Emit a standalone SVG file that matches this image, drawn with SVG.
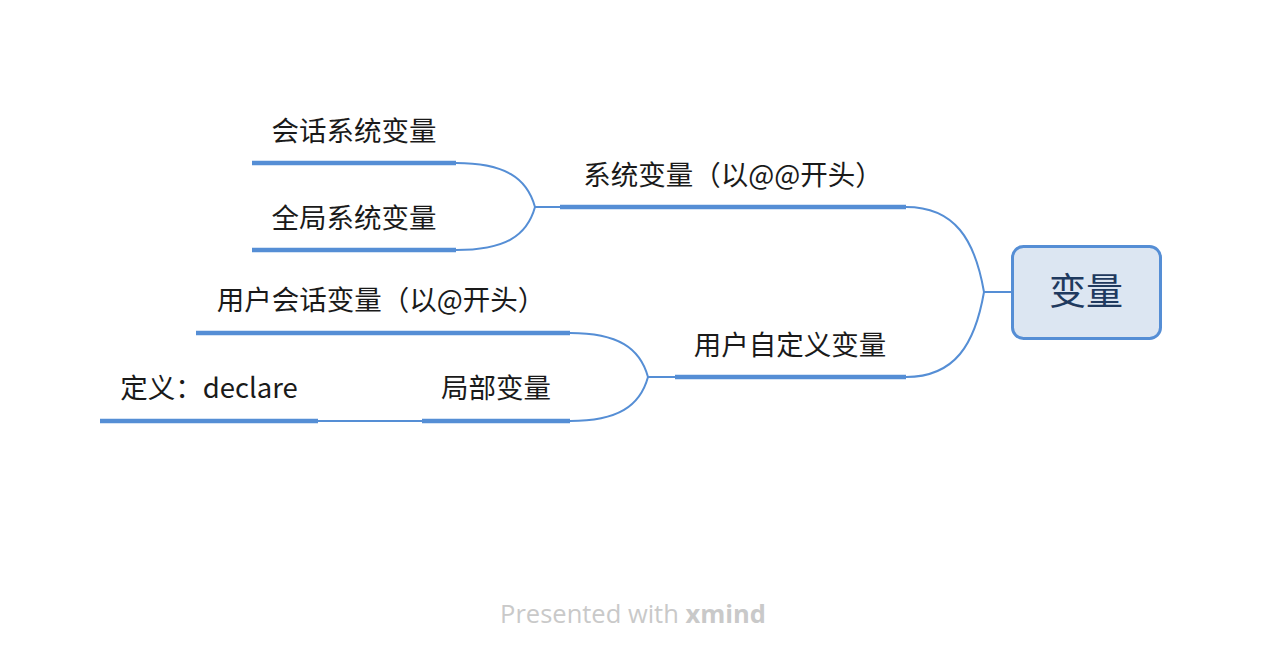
<svg xmlns="http://www.w3.org/2000/svg" width="1262" height="664" viewBox="0 0 1262 664">
<style>
.bar{stroke:#558ed5;stroke-width:4.5;stroke-linecap:butt;fill:none}
.ln{stroke:#558ed5;stroke-width:2;fill:none}
.t{font-family:"Microsoft YaHei","Noto Sans CJK SC","Noto Sans",sans-serif;font-size:27.5px;fill:#1a1a1a;text-anchor:middle}
.c{font-family:"Microsoft YaHei","Noto Sans CJK SC","Noto Sans",sans-serif;font-size:37px;fill:#1f3a5f;text-anchor:middle}
.f{font-family:"Open Sans","Noto Sans",sans-serif;font-size:25.5px;fill:#c9c9c9}
</style>
<rect width="1262" height="664" fill="#ffffff"/>
<g id="connectors">
<path class="ln" d="M1011,292 H984"/>
<path class="ln" d="M984,292 C975,240 955,207 906,207"/>
<path class="ln" d="M984,292 C975,344 955,377 906,377"/>
<path class="ln" d="M560,207 H535"/>
<path class="ln" d="M535,207 C527,178 505,163 456,163"/>
<path class="ln" d="M535,207 C527,236 505,250 456,250"/>
<path class="ln" d="M675,377 H648"/>
<path class="ln" d="M648,377 C640,348 618,333 570,333"/>
<path class="ln" d="M648,377 C640,406 618,421 570,421"/>
<path class="ln" d="M422,421 H318"/>
</g>
<g id="root">
<rect x="1012.5" y="246.5" width="148" height="92" rx="11" fill="#dce6f2" stroke="#558ed5" stroke-width="3"/>
<text class="c" x="1086" y="305">变量</text>
</g>
<g id="sys">
<line class="bar" x1="560" y1="207" x2="906" y2="207"/>
<text class="t" x="733" y="185">系统变量（以@@开头）</text>
</g>
<g id="sys-session">
<line class="bar" x1="252" y1="163" x2="456" y2="163"/>
<text class="t" x="354" y="141">会话系统变量</text>
</g>
<g id="sys-global">
<line class="bar" x1="252" y1="250" x2="456" y2="250"/>
<text class="t" x="354" y="228">全局系统变量</text>
</g>
<g id="user">
<line class="bar" x1="675" y1="377" x2="906" y2="377"/>
<text class="t" x="790" y="355">用户自定义变量</text>
</g>
<g id="user-session">
<line class="bar" x1="196" y1="333" x2="570" y2="333"/>
<text class="t" x="381" y="310">用户会话变量（以@开头）</text>
</g>
<g id="local">
<line class="bar" x1="422" y1="421" x2="570" y2="421"/>
<text class="t" x="496" y="398">局部变量</text>
</g>
<g id="declare">
<line class="bar" x1="100" y1="421" x2="318" y2="421"/>
<text class="t" x="209" y="398">定义：declare</text>
</g>
<text class="f" x="633" y="623" text-anchor="middle">Presented with <tspan font-weight="bold">xmind</tspan></text>
</svg>
